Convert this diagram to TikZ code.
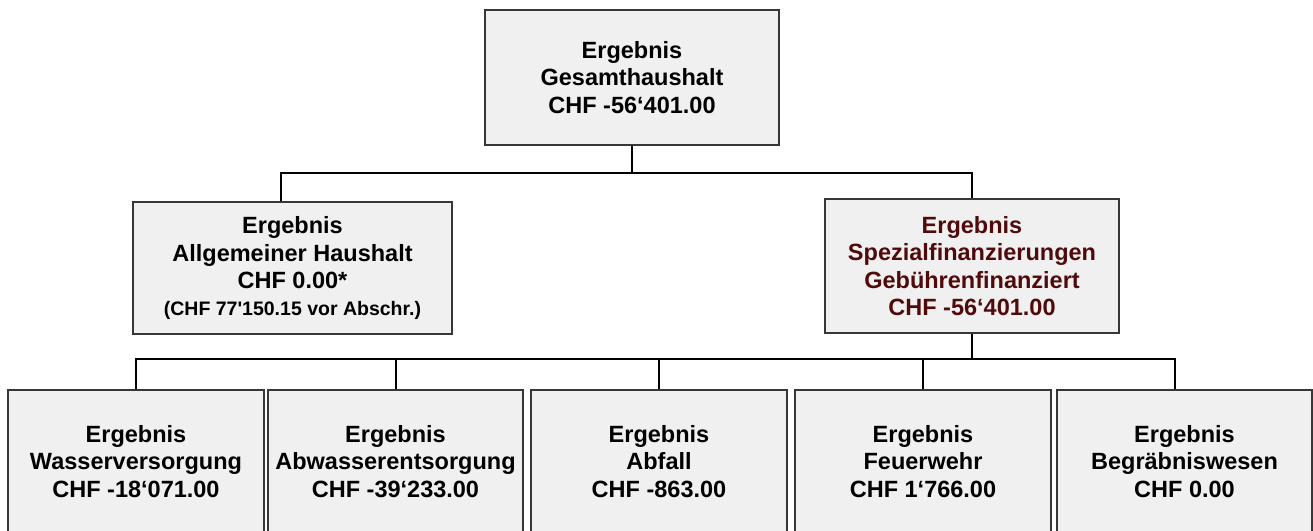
\documentclass[tikz,border=0pt]{standalone}
\usepackage{fontspec}
\setmainfont{Liberation Sans}
\definecolor{boxfill}{RGB}{240,240,240}
\definecolor{boxline}{RGB}{55,55,55}
\definecolor{darkred}{RGB}{80,10,12}
\begin{document}
\begin{tikzpicture}[x=1pt,y=-1pt,
  box/.style={draw=boxline, line width=1.3pt, fill=boxfill, align=center,
    font=\bfseries\fontsize{23.5}{27.5}\selectfont, inner sep=0pt},
  link/.style={line width=2pt, draw=black}]
\useasboundingbox (0,0) rectangle (1313,530);
\clip (0,0) rectangle (1313,530);

\node[box, minimum width=294, minimum height=135] (top) at (632,77.5)
  {Ergebnis\\Gesamthaushalt\\CHF -56‘401.00};

\node[box, minimum width=319, minimum height=132] (left) at (292.5,268)
  {Ergebnis\\Allgemeiner Haushalt\\CHF 0.00*\\[-1pt]{\fontsize{19.5}{22}\selectfont (CHF 77\textquotesingle 150.15 vor Abschr.)}};

\node[box, minimum width=294, minimum height=134, text=darkred] (right) at (972,266)
  {Ergebnis\\Spezialfinanzierungen\\Gebührenfinanziert\\CHF -56‘401.00};

\node[box, minimum width=256, minimum height=143] (b1) at (136,461.5)
  {Ergebnis\\Wasserversorgung\\CHF -18‘071.00};
\node[box, minimum width=255, minimum height=143] (b2) at (395.5,461.5)
  {Ergebnis\\Abwasserentsorgung\\CHF -39‘233.00};
\node[box, minimum width=256, minimum height=143] (b3) at (659,461.5)
  {Ergebnis\\Abfall\\CHF -863.00};
\node[box, minimum width=256, minimum height=143] (b4) at (923,461.5)
  {Ergebnis\\Feuerwehr\\CHF 1‘766.00};
\node[box, minimum width=255, minimum height=143] (b5) at (1184.5,461.5)
  {Ergebnis\\Begräbniswesen\\CHF 0.00};

\coordinate (lt) at ([xshift=-12pt]left.north);
\coordinate (b5t) at ([xshift=-9.5pt]b5.north);

\draw[link] (top.south) -- ++(0,27.5) -| (lt);
\draw[link] (top.south) -- ++(0,27.5) -| (right.north);

\draw[link] (right.south) -- ++(0,25) -| (b1.north);
\draw[link] (right.south) -- ++(0,25) -| (b2.north);
\draw[link] (right.south) -- ++(0,25) -| (b3.north);
\draw[link] (right.south) -- ++(0,25) -| (b4.north);
\draw[link] (right.south) -- ++(0,25) -| (b5t);
\end{tikzpicture}
\end{document}
